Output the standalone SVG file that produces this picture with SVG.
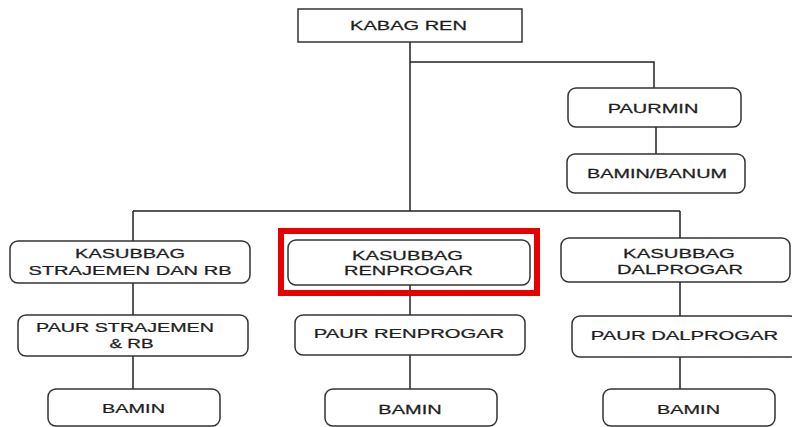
<svg xmlns="http://www.w3.org/2000/svg" width="792" height="427" viewBox="0 0 792 427">
<style>
.box{fill:#fff;stroke:#333;stroke-width:1.5}
.t{font-family:"Liberation Sans",Arial,sans-serif;font-size:13.5px;fill:#1e1e1e;stroke:#1e1e1e;stroke-width:0.25;text-anchor:middle}
.c{fill:none;stroke:#222;stroke-width:1.5}
</style>
<rect width="792" height="427" fill="#fff"/>
<g id="connectors">
<path class="c" d="M410 42V211M410 62H654V88M656 127V154M133 211H680M133 211V241M680 211V238M133 283V315M133 356V389M410 285V315M410 355V389M680 282V316M680 357V389"/>
</g>
<g id="kabag-ren"><rect class="box" x="298" y="9" width="224" height="33"/><text class="t" transform="translate(408.5 30) scale(1.485 1)">KABAG REN</text></g>
<g id="paurmin"><rect class="box" x="568" y="88" width="173" height="39" rx="8"/><text class="t" transform="translate(653 113) scale(1.48 1)">PAURMIN</text></g>
<g id="bamin-banum"><rect class="box" x="567" y="154" width="178" height="39" rx="8"/><text class="t" transform="translate(657 178) scale(1.47 1)">BAMIN/BANUM</text></g>
<g id="kasubbag-strajemen"><rect class="box" x="10" y="241" width="240" height="42" rx="8"/><text class="t" transform="translate(130 258) scale(1.48 1)">KASUBBAG</text><text class="t" transform="translate(130 275) scale(1.49 1)">STRAJEMEN DAN RB</text></g>
<g id="paur-strajemen"><rect class="box" x="18" y="315" width="230" height="41" rx="8"/><text class="t" transform="translate(125 332) scale(1.46 1)">PAUR STRAJEMEN</text><text class="t" transform="translate(131.5 348) scale(1.4 1)">&amp; RB</text></g>
<g id="bamin-1"><rect class="box" x="48" y="389" width="172" height="37" rx="8"/><text class="t" transform="translate(133.5 413) scale(1.474 1)">BAMIN</text></g>
<g id="kasubbag-renprogar"><rect class="box" x="288" y="240" width="242" height="45" rx="8"/><text class="t" transform="translate(407.5 260) scale(1.494 1)">KASUBBAG</text><text class="t" transform="translate(408.5 275) scale(1.483 1)">RENPROGAR</text><rect x="281" y="231" width="256" height="62" fill="none" stroke="#e60000" stroke-width="6"/></g>
<g id="paur-renprogar"><rect class="box" x="295" y="315" width="230" height="40" rx="8"/><text class="t" transform="translate(409 338) scale(1.497 1)">PAUR RENPROGAR</text></g>
<g id="bamin-2"><rect class="box" x="325" y="389" width="172" height="37" rx="8"/><text class="t" transform="translate(410 414) scale(1.48 1)">BAMIN</text></g>
<g id="kasubbag-dalprogar"><rect class="box" x="561" y="238" width="229" height="44" rx="8"/><text class="t" transform="translate(679 258) scale(1.507 1)">KASUBBAG</text><text class="t" transform="translate(680 274) scale(1.486 1)">DALPROGAR</text></g>
<g id="paur-dalprogar"><rect class="box" x="572" y="316" width="226" height="41" rx="8"/><text class="t" transform="translate(684.5 340) scale(1.5 1)">PAUR DALPROGAR</text></g>
<g id="bamin-3"><rect class="box" x="603" y="389" width="172" height="37" rx="8"/><text class="t" transform="translate(688.5 414) scale(1.474 1)">BAMIN</text></g>
</svg>
